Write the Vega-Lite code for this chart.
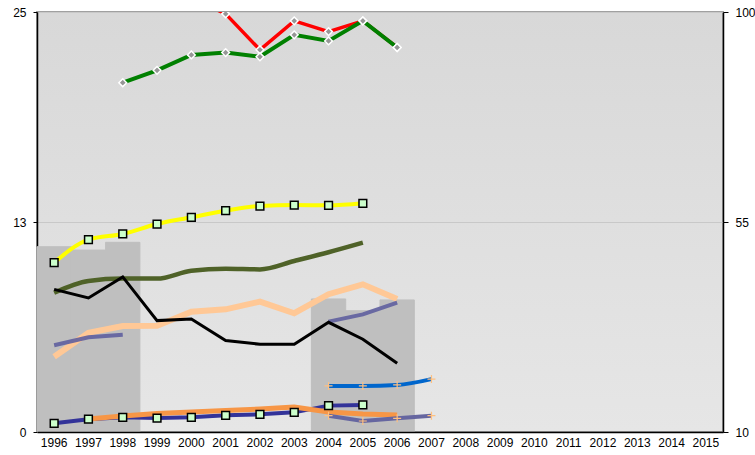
{
  "$schema": "https://vega.github.io/schema/vega-lite/v6.json",
  "width": 686,
  "height": 420,
  "autosize": "none",
  "padding": {"left": 37, "top": 12, "right": 32, "bottom": 23},
  "background": "white",
  "view": {
    "fill": {"gradient": "linear", "x1": 0, "y1": 0, "x2": 0, "y2": 1,
      "stops": [{"offset": 0, "color": "#D8D8D8"}, {"offset": 1, "color": "#E6E6E6"}]},
    "stroke": "#A0A0A0",
    "strokeWidth": 2
  },
  "config": {
    "font": "Liberation Sans",
    "axis": {"labelFont": "Liberation Sans", "labelFontSize": 12, "labelColor": "#000000", "domainColor": "#000000", "tickColor": "#000000", "title": null}
  },
  "datasets": {
    "bars": [
      {"year": 1996, "v": 11.03}, {"year": 1997, "v": 10.83}, {"year": 1998, "v": 11.29},
      {"year": 2004, "v": 7.92}, {"year": 2005, "v": 7.22}, {"year": 2006, "v": 7.86}
    ],
    "left": [
      {"s": "yellow", "year": 1996, "v": 10.08}, {"s": "yellow", "year": 1997, "v": 11.45}, {"s": "yellow", "year": 1998, "v": 11.79}, {"s": "yellow", "year": 1999, "v": 12.38}, {"s": "yellow", "year": 2000, "v": 12.78}, {"s": "yellow", "year": 2001, "v": 13.17}, {"s": "yellow", "year": 2002, "v": 13.45}, {"s": "yellow", "year": 2003, "v": 13.51}, {"s": "yellow", "year": 2004, "v": 13.49}, {"s": "yellow", "year": 2005, "v": 13.61},
      {"s": "olive", "year": 1996, "v": 8.29}, {"s": "olive", "year": 1997, "v": 8.99}, {"s": "olive", "year": 1998, "v": 9.13}, {"s": "olive", "year": 1999, "v": 9.13}, {"s": "olive", "year": 2000, "v": 9.6}, {"s": "olive", "year": 2001, "v": 9.72}, {"s": "olive", "year": 2002, "v": 9.68}, {"s": "olive", "year": 2003, "v": 10.18}, {"s": "olive", "year": 2004, "v": 10.7}, {"s": "olive", "year": 2005, "v": 11.27},
      {"s": "black", "year": 1996, "v": 8.49}, {"s": "black", "year": 1997, "v": 7.98}, {"s": "black", "year": 1998, "v": 9.23}, {"s": "black", "year": 1999, "v": 6.63}, {"s": "black", "year": 2000, "v": 6.73}, {"s": "black", "year": 2001, "v": 5.45}, {"s": "black", "year": 2002, "v": 5.22}, {"s": "black", "year": 2003, "v": 5.22}, {"s": "black", "year": 2004, "v": 6.53}, {"s": "black", "year": 2005, "v": 5.52}, {"s": "black", "year": 2006, "v": 4.09},
      {"s": "peach", "year": 1996, "v": 4.48}, {"s": "peach", "year": 1997, "v": 5.91}, {"s": "peach", "year": 1998, "v": 6.31}, {"s": "peach", "year": 1999, "v": 6.33}, {"s": "peach", "year": 2000, "v": 7.16}, {"s": "peach", "year": 2001, "v": 7.3}, {"s": "peach", "year": 2002, "v": 7.76}, {"s": "peach", "year": 2003, "v": 7.07}, {"s": "peach", "year": 2004, "v": 8.2}, {"s": "peach", "year": 2005, "v": 8.79}, {"s": "peach", "year": 2006, "v": 7.92},
      {"s": "slate", "seg": "a", "year": 1996, "v": 5.16}, {"s": "slate", "seg": "a", "year": 1997, "v": 5.64}, {"s": "slate", "seg": "a", "year": 1998, "v": 5.79},
      {"s": "slate", "seg": "b", "year": 2004, "v": 6.57}, {"s": "slate", "seg": "b", "year": 2005, "v": 7.0}, {"s": "slate", "seg": "b", "year": 2006, "v": 7.7},
      {"s": "orange", "year": 1997, "v": 0.77}, {"s": "orange", "year": 1998, "v": 0.95}, {"s": "orange", "year": 1999, "v": 1.1}, {"s": "orange", "year": 2000, "v": 1.19}, {"s": "orange", "year": 2001, "v": 1.28}, {"s": "orange", "year": 2002, "v": 1.37}, {"s": "orange", "year": 2003, "v": 1.49}, {"s": "orange", "year": 2004, "v": 1.19}, {"s": "orange", "year": 2005, "v": 1.07}, {"s": "orange", "year": 2006, "v": 1.01},
      {"s": "navy", "year": 1996, "v": 0.52}, {"s": "navy", "year": 1997, "v": 0.76}, {"s": "navy", "year": 1998, "v": 0.875}, {"s": "navy", "year": 1999, "v": 0.83}, {"s": "navy", "year": 2000, "v": 0.875}, {"s": "navy", "year": 2001, "v": 0.99}, {"s": "navy", "year": 2002, "v": 1.05}, {"s": "navy", "year": 2003, "v": 1.17}, {"s": "navy", "year": 2004, "v": 1.57}, {"s": "navy", "year": 2005, "v": 1.61},
      {"s": "blue", "year": 2004, "v": 2.74}, {"s": "blue", "year": 2005, "v": 2.74}, {"s": "blue", "year": 2006, "v": 2.8}, {"s": "blue", "year": 2007, "v": 3.15},
      {"s": "slate2", "year": 2004, "v": 0.97}, {"s": "slate2", "year": 2005, "v": 0.655}, {"s": "slate2", "year": 2006, "v": 0.815}, {"s": "slate2", "year": 2007, "v": 0.97}
    ],
    "right": [
      {"s": "red", "year": 2000, "v": 103}, {"s": "red", "year": 2001, "v": 99.6}, {"s": "red", "year": 2002, "v": 91.9}, {"s": "red", "year": 2003, "v": 98.1}, {"s": "red", "year": 2004, "v": 95.8}, {"s": "red", "year": 2005, "v": 98.1}, {"s": "red", "year": 2006, "v": 92.4},
      {"s": "green", "year": 1998, "v": 84.85}, {"s": "green", "year": 1999, "v": 87.5}, {"s": "green", "year": 2000, "v": 90.8}, {"s": "green", "year": 2001, "v": 91.3}, {"s": "green", "year": 2002, "v": 90.4}, {"s": "green", "year": 2003, "v": 95.1}, {"s": "green", "year": 2004, "v": 93.8}, {"s": "green", "year": 2005, "v": 98.1}, {"s": "green", "year": 2006, "v": 92.4}
    ]
  },
  "encoding": {
    "x": {
      "field": "year", "type": "ordinal",
      "scale": {"type": "band", "domain": [1996, 1997, 1998, 1999, 2000, 2001, 2002, 2003, 2004, 2005, 2006, 2007, 2008, 2009, 2010, 2011, 2012, 2013, 2014, 2015], "paddingInner": 0, "paddingOuter": 0},
      "axis": {"labelAngle": 0, "ticks": false, "labelPadding": 5, "domainWidth": 1.5, "grid": false, "zindex": 1}
    }
  },
  "layer": [
    {
      "encoding": {
        "y": {"field": "v", "type": "quantitative",
          "scale": {"domain": [0, 25], "nice": false, "zero": true},
          "axis": {"orient": "left", "values": [0, 12.5, 25], "format": ".0f", "grid": true, "gridColor": "#C8C8C8", "gridWidth": 1, "tickSize": 4, "labelPadding": 7, "domainWidth": 1.5}}
      },
      "layer": [
        {"data": {"name": "bars"}, "mark": {"type": "bar", "color": "#BFBFBF", "stroke": "#BFBFBF", "strokeWidth": 1}},
        {"data": {"name": "left"}, "transform": [{"filter": "datum.s === 'olive'"}], "mark": {"type": "line", "color": "#4F6228", "strokeWidth": 4.5, "interpolate": "monotone", "clip": true}},
        {"data": {"name": "left"}, "transform": [{"filter": "datum.s === 'peach'"}], "mark": {"type": "line", "color": "#FFC896", "strokeWidth": 6, "clip": true}},
        {"data": {"name": "left"}, "transform": [{"filter": "datum.s === 'slate'"}], "mark": {"type": "line", "color": "#5F5F9F", "strokeWidth": 4, "opacity": 0.9, "clip": true}, "encoding": {"detail": {"field": "seg"}}},
        {"data": {"name": "left"}, "transform": [{"filter": "datum.s === 'black'"}], "mark": {"type": "line", "color": "#000000", "strokeWidth": 3, "clip": true}},
        {"data": {"name": "left"}, "transform": [{"filter": "datum.s === 'yellow'"}], "mark": {"type": "line", "color": "#FFFF00", "strokeWidth": 4, "interpolate": "monotone", "clip": true}},
        {"data": {"name": "left"}, "transform": [{"filter": "datum.s === 'navy'"}], "mark": {"type": "line", "color": "#333399", "strokeWidth": 4, "clip": true}},
        {"data": {"name": "left"}, "transform": [{"filter": "datum.s === 'orange'"}], "mark": {"type": "line", "color": "#F79646", "strokeWidth": 5, "clip": true}},
        {"data": {"name": "left"}, "transform": [{"filter": "datum.s === 'blue'"}], "mark": {"type": "line", "color": "#0066CC", "strokeWidth": 4, "interpolate": "monotone", "clip": true}},
        {"data": {"name": "left"}, "transform": [{"filter": "datum.s === 'slate2'"}], "mark": {"type": "line", "color": "#6666A0", "strokeWidth": 4, "clip": true}},
        {"data": {"name": "left"}, "transform": [{"filter": "datum.s === 'yellow' || datum.s === 'navy'"}], "mark": {"type": "point", "shape": "square", "filled": true, "fill": "#CCFFCC", "stroke": "#000000", "strokeWidth": 1.5, "size": 60, "opacity": 1, "clip": true}},
        {"data": {"name": "left"}, "transform": [{"filter": "datum.s === 'blue' || datum.s === 'slate2'"}], "mark": {"type": "point", "shape": "M-1,0L1,0M0,-1L0,1", "filled": false, "stroke": "#FFC080", "strokeWidth": 1.2, "size": 64, "opacity": 1, "clip": true}}
      ]
    },
    {
      "data": {"name": "right"},
      "encoding": {
        "y": {"field": "v", "type": "quantitative",
          "scale": {"domain": [10, 100], "nice": false, "zero": false},
          "axis": {"orient": "right", "values": [10, 55, 100], "grid": false, "tickSize": 5, "labelPadding": 7, "domainWidth": 1.5, "zindex": 1}}
      },
      "layer": [
        {"transform": [{"filter": "datum.s === 'red'"}], "mark": {"type": "line", "color": "#FF0000", "strokeWidth": 3.5, "clip": true}},
        {"transform": [{"filter": "datum.s === 'green'"}], "mark": {"type": "line", "color": "#008000", "strokeWidth": 4, "clip": true}},
        {"mark": {"type": "point", "shape": "diamond", "filled": true, "fill": "#969696", "stroke": "#FFFFFF", "strokeWidth": 1.5, "size": 60, "opacity": 1, "clip": true}}
      ]
    }
  ],
  "resolve": {"scale": {"y": "independent"}}
}
